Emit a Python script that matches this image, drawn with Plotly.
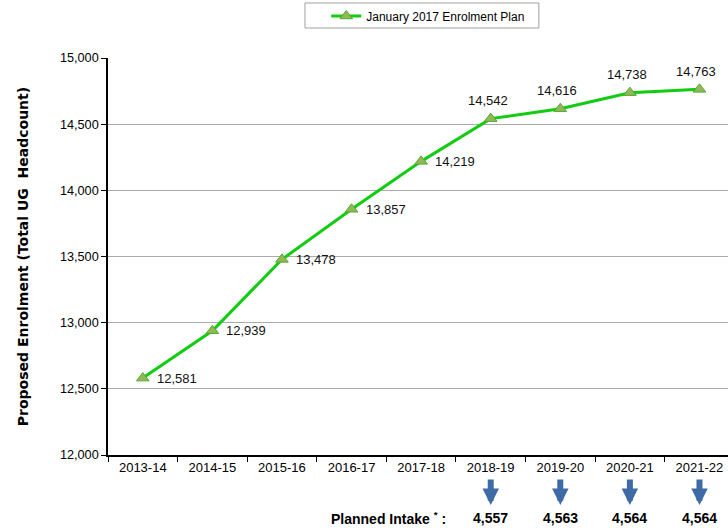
import plotly.graph_objects as go

# ---- data ----
categories = ["2013-14", "2014-15", "2015-16", "2016-17", "2017-18",
              "2018-19", "2019-20", "2020-21", "2021-22"]
enrolment = [12581, 12939, 13478, 13857, 14219, 14542, 14616, 14738, 14763]
intake_years = ["2018-19", "2019-20", "2020-21", "2021-22"]
intake = [4557, 4563, 4564, 4564]
series_name = "January 2017 Enrolment Plan"
y_title = "Proposed Enrolment (Total UG  Headcount)"
intake_label = "Planned Intake <sup>*</sup> :"

# ---- styles ----
FONT = "Liberation Sans, Arial, sans-serif"
LINE_GREEN = "#11CC11"
MARKER_FILL = "#92B659"
MARKER_EDGE = "#4FAF2C"
ARROW_BLUE = "#3E6BA5"
GRID = "#ABABAB"

fig = go.Figure()
fig.add_trace(go.Scatter(
    x=categories, y=enrolment, mode="lines+markers", name=series_name,
    line=dict(color=LINE_GREEN, width=3),
    marker=dict(symbol="triangle-up", size=11, color=MARKER_FILL,
                line=dict(color=MARKER_EDGE, width=1)),
    cliponaxis=False,
))

annotations = []
# data labels
for i, (c, v) in enumerate(zip(categories, enrolment)):
    if i < 5:
        annotations.append(dict(x=c, y=v, xref="x", yref="y", text=f"{v:,}",
                                showarrow=False, xanchor="left", yanchor="middle",
                                xshift=12, font=dict(family=FONT, size=13, color="#111")))
    else:
        annotations.append(dict(x=c, y=v, xref="x", yref="y", text=f"{v:,}",
                                showarrow=False, xanchor="center", yanchor="middle",
                                xshift=-3, yshift=18, font=dict(family=FONT, size=13, color="#111")))

# arrows + planned intake values
for c, v in zip(intake_years, intake):
    annotations.append(dict(x=c, y=-0.126, xref="x", yref="paper", text="",
                            showarrow=True, ax=0, ay=-27, axref="pixel", ayref="pixel",
                            arrowhead=2, arrowsize=0.55, arrowwidth=6,
                            arrowcolor=ARROW_BLUE))
    annotations.append(dict(x=c, y=-0.1587, xref="x", yref="paper", text=f"<b>{v:,}</b>",
                            showarrow=False, xanchor="center", yanchor="middle",
                            font=dict(family=FONT, size=14, color="#000")))

annotations.append(dict(x=0.548, y=-0.1587, xref="paper", yref="paper",
                        text=f"<b>{intake_label}</b>", showarrow=False,
                        xanchor="right", yanchor="middle",
                        font=dict(family=FONT, size=14, color="#000")))

fig.update_layout(
    width=728, height=529,
    margin=dict(l=108, r=0, t=58, b=74),
    paper_bgcolor="white", plot_bgcolor="white",
    font=dict(family=FONT, size=12, color="#000"),
    showlegend=True,
    legend=dict(x=0.352, y=1.1058, xanchor="left", yanchor="middle",
                orientation="h", font=dict(family=FONT, size=12, color="#000"),
                bgcolor="rgba(0,0,0,0)", borderwidth=0),
    annotations=annotations,
    shapes=[dict(type="rect", xref="paper", yref="paper",
                 x0=0.3177, x1=0.695, y0=1.0756, y1=1.1385,
                 line=dict(color="#A0A0A0", width=1), fillcolor="rgba(0,0,0,0)")],
)

fig.update_xaxes(
    type="category", range=[-0.5, 8.41],
    showline=True, linecolor="#000", linewidth=1.5,
    ticks="outside", tickson="boundaries", ticklen=5, tickcolor="#000",
    showgrid=False, tickfont=dict(family=FONT, size=13, color="#000"),
)
fig.update_yaxes(
    range=[12000, 15000], dtick=500, tickformat=",",
    showline=True, linecolor="#000", linewidth=1.5,
    ticks="outside", ticklen=5, tickcolor="#000",
    showgrid=True, gridcolor=GRID, gridwidth=1, zeroline=False,
    tickfont=dict(family=FONT, size=12.7, color="#000"),
    title=dict(text=f"<b>{y_title}</b>", standoff=28,
               font=dict(family="DejaVu Sans, sans-serif", size=14, color="#000")),
)

fig.write_html("out.html", config={"displayModeBar": False},
               post_script="document.body.style.margin='0px';")
